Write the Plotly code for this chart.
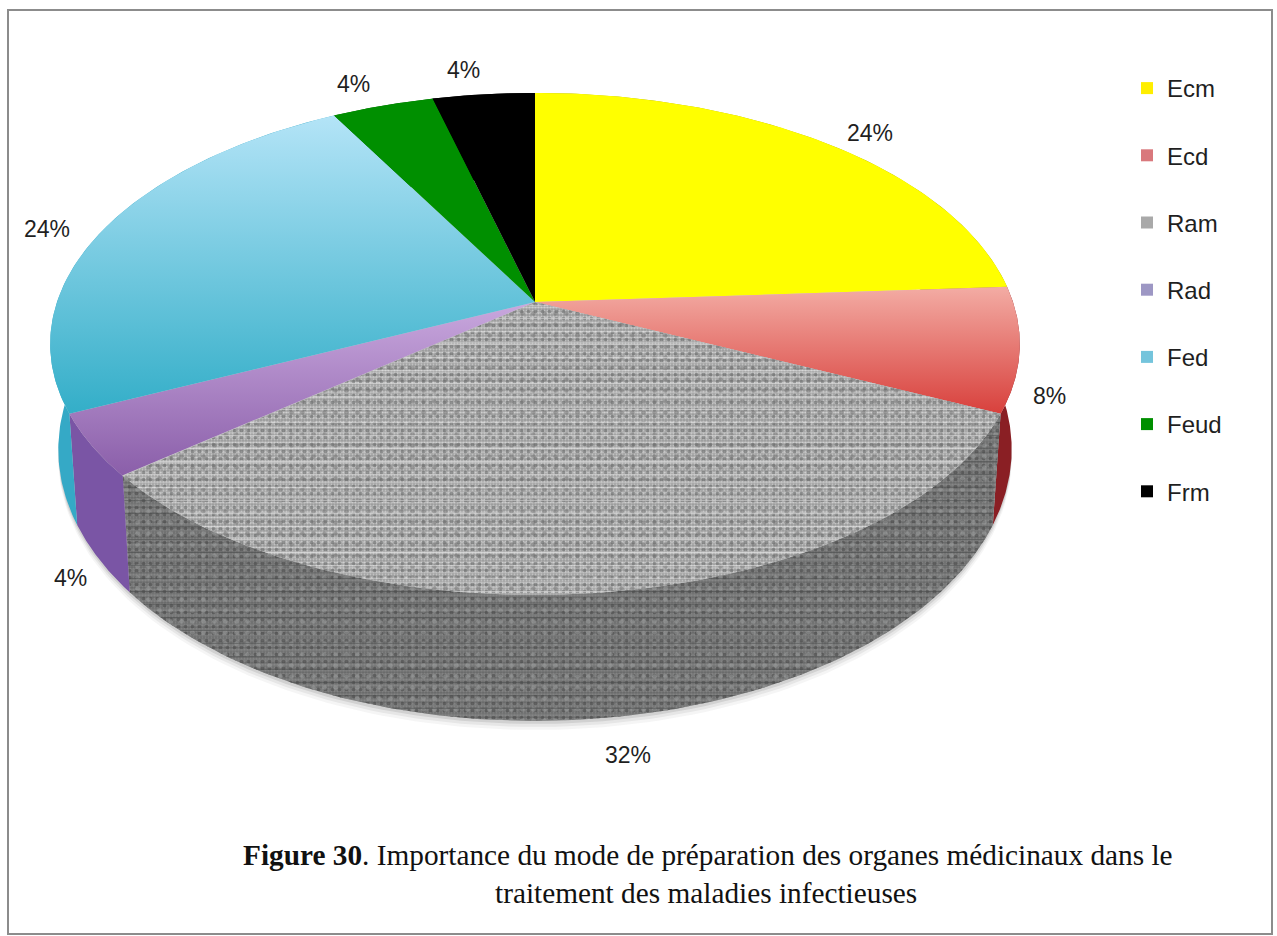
import numpy as np
import plotly.graph_objects as go

categories = ["Ecm", "Ecd", "Ram", "Rad", "Fed", "Feud", "Frm"]
values = [24, 8, 32, 4, 24, 4, 4]

# styling per slice
top_colors = ["#ffff00", None, None, None, None, "#008f00", "#000000"]
side_colors = ["#b0b000", "#8a1f24", "#666767", "#7a55a5", "#35a9c6", "#005f00", "#000000"]
legend_colors = ["#ffee00", "#d9787c", "#a9a9a9", "#9d97c4", "#74c4dc", "#008f00", "#000000"]
gradients = {
    "Ecd": ["#f3aca4", "#d8403c"],
    "Rad": ["#c9a8de", "#8a5ea9"],
    "Fed": ["#b4e4f7", "#33aec8"],
}
label_pos = [(870, 133), (1049, 396), (628, 755), (70, 578), (47, 229), (353, 84), (463, 70)]
legend_gap = 33

# speckle layers for the stone texture: (shape, size, solidity, colour)
top_texture = [("-", 5, 0.35, "#d4d5d5"), (".", 3, 0.30, "#e6e6e6"), (".", 7, 0.22, "#5c5d5d"),
               (".", 11, 0.14, "#6f7070"), ("-", 13, 0.10, "#ececec")]
side_texture = [("-", 5, 0.40, "#5a5b5b"), (".", 3, 0.30, "#939494"), (".", 7, 0.22, "#414242"),
                (".", 11, 0.14, "#a0a1a1"), ("-", 13, 0.10, "#484949")]

# projection of the tilted disc into the page
CX, CY, A, B, K = 535.0, 302.0, 478.0, 244.0, 0.167
CY2, A2, B2 = 404.0, 470.0, 264.0


def top_xy(t):
    d = 1 + K * np.sin(t)
    return CX + A * np.cos(t) / d, CY - B * np.sin(t) / d


def bottom_xy(t):
    d = 1 + K * np.sin(t)
    return CX + A2 * np.cos(t) / d, CY2 - B2 * np.sin(t) / d


total = sum(values)
edges = np.cumsum([0] + values) / total
arcs = [np.pi / 2 - 2 * np.pi * np.linspace(edges[i], edges[i + 1], 120) for i in range(len(values))]

fig = go.Figure()


def add_fill(x, y, **kw):
    fig.add_trace(go.Scatter(x=x, y=y, mode="lines", fill="toself", line=dict(width=0),
                             showlegend=False, hoverinfo="skip", **kw))


def add_texture(x, y, layers):
    for shape, size, solidity, col in layers:
        add_fill(x, y, fillcolor="rgba(0,0,0,0)",
                 fillpattern=dict(shape=shape, size=size, solidity=solidity, fgcolor=col,
                                  bgcolor="rgba(0,0,0,0)"))


# soft shadow below the body
tt = np.linspace(0, 2 * np.pi, 300)
for off, op in [(9, 0.05), (6, 0.08), (3, 0.12)]:
    sx, sy = bottom_xy(tt)
    add_fill(sx, sy + off, fillcolor=f"rgba(60,60,60,{op})")

# side walls
for i, cat in enumerate(categories):
    tx, ty = top_xy(arcs[i])
    bx, by = bottom_xy(arcs[i])
    x = np.r_[tx, bx[::-1], tx[0]]
    y = np.r_[ty, by[::-1], ty[0]]
    add_fill(x, y, fillcolor="#787979" if cat == "Ram" else side_colors[i])
    if cat == "Ram":
        add_texture(x, y, side_texture)

# top faces
for i, cat in enumerate(categories):
    tx, ty = top_xy(arcs[i])
    x = np.r_[CX, tx, CX]
    y = np.r_[CY, ty, CY]
    kw = {}
    if cat in gradients:
        lo, hi = float(np.min(y)), float(np.max(y))
        kw["fillgradient"] = dict(type="vertical", start=lo, stop=hi,
                                  colorscale=[[0, gradients[cat][0]], [1, gradients[cat][1]]])
    elif cat == "Ram":
        kw["fillcolor"] = "#9c9d9d"
    else:
        kw["fillcolor"] = top_colors[i]
    add_fill(x, y, **kw)
    if cat == "Ram":
        add_texture(x, y, top_texture)

# legend entries
for cat, col in zip(categories, legend_colors):
    fig.add_trace(go.Scatter(x=[None], y=[None], mode="markers", name=cat, legendgroup=cat,
                             marker=dict(symbol="square", size=12, color=col)))

# percentage labels
annotations = []
for v, (lx, ly) in zip(values, label_pos):
    annotations.append(dict(x=lx, y=ly, xref="x", yref="y", text=f"{v}%", showarrow=False,
                            font=dict(family="Liberation Sans", size=23, color="#1f1f1f")))

annotations.append(dict(x=241, y=855, xref="x", yref="y", xanchor="left", showarrow=False,
                        text="<b>Figure 30</b>. Importance du mode de préparation des organes médicinaux dans le",
                        font=dict(family="Liberation Serif", size=29.3, color="#111111")))
annotations.append(dict(x=706, y=893, xref="x", yref="y", showarrow=False,
                        text="traitement des maladies infectieuses",
                        font=dict(family="Liberation Serif", size=29.3, color="#111111")))

fig.update_layout(
    width=1277, height=936,
    margin=dict(l=0, r=0, t=0, b=0),
    paper_bgcolor="white", plot_bgcolor="white",
    xaxis=dict(range=[0, 1277], visible=False, fixedrange=True),
    yaxis=dict(range=[936, 0], visible=False, fixedrange=True),
    annotations=annotations,
    shapes=[dict(type="rect", xref="x", yref="y", x0=8, y0=10, x1=1272, y1=934,
                 line=dict(color="#8c8c8c", width=2), fillcolor="rgba(0,0,0,0)", layer="below")],
    legend=dict(x=1127 / 1277, y=1 - 66 / 936, xanchor="left", yanchor="top",
                font=dict(family="Liberation Sans", size=24, color="#1f1f1f"),
                tracegroupgap=legend_gap, bgcolor="rgba(0,0,0,0)"),
    showlegend=True,
)

fig.write_html("out.html", config={"displayModeBar": False},
               post_script="document.body.style.margin='0';document.body.style.overflow='hidden';")
